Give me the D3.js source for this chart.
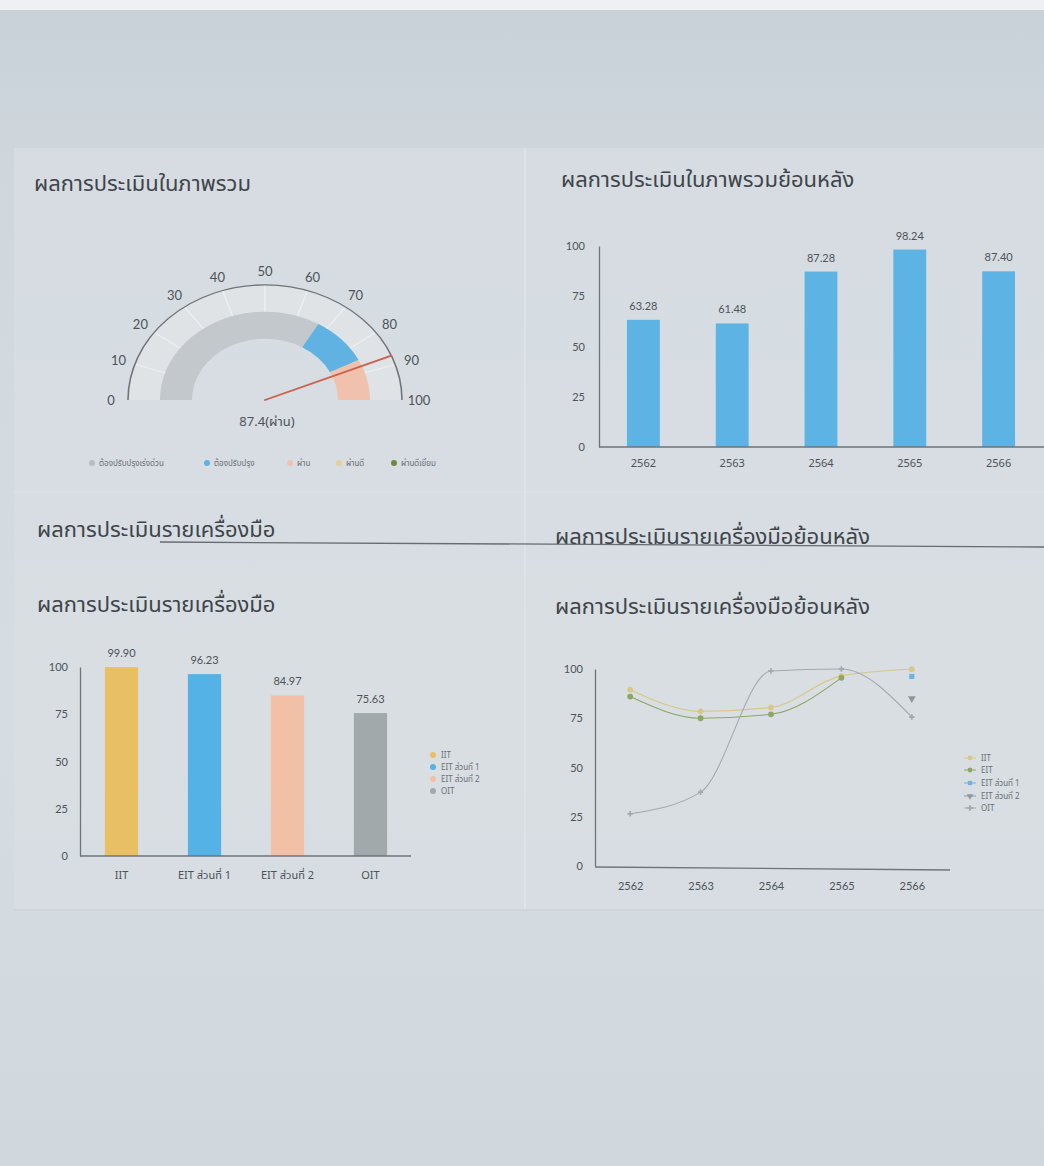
<!DOCTYPE html>
<html>
<head>
<meta charset="utf-8">
<script src="https://cdn.jsdelivr.net/npm/d3@7"></script>
<style>
  html, body { margin: 0; padding: 0; background: #d3dae0; }
  svg { display: block; }
  text { font-family: "Noto Sans Thai", "Noto Sans", "Lato", sans-serif; }
  .num { font-family: "Lato", "Open Sans", sans-serif; }
</style>
</head>
<body>
<svg id="chart" width="1044" height="1166"></svg>
<script>
// ---- data ----
var titles = [
  "ผลการประเมินในภาพรวม",
  "ผลการประเมินในภาพรวมย้อนหลัง",
  "ผลการประเมินรายเครื่องมือ",
  "ผลการประเมินรายเครื่องมือย้อนหลัง"
];

// gauge
var gaugeTicks = [0, 10, 20, 30, 40, 50, 60, 70, 80, 90, 100];
var gaugeValue = 87.4;
var gaugeLabel = "87.4(ผ่าน)";
var gaugeBandFrom = [0, 67, 85];
var gaugeBandTo = [67, 85, 100];
var gaugeLegend = ["ต้องปรับปรุงเร่งด่วน", "ต้องปรับปรุง", "ผ่าน", "ผ่านดี", "ผ่านดีเยี่ยม"];

// overall by year
var years = ["2562", "2563", "2564", "2565", "2566"];
var yearScores = [63.28, 61.48, 87.28, 98.24, 87.40];

// per tool
var tools = ["IIT", "EIT ส่วนที่ 1", "EIT ส่วนที่ 2", "OIT"];
var toolScores = [99.90, 96.23, 84.97, 75.63];

// per tool by year
var lineSeries = ["IIT", "EIT", "EIT ส่วนที่ 1", "EIT ส่วนที่ 2", "OIT"];
var iitByYear = [89.5, 78.5, 80.5, 96.5, 99.90];
var eitByYear = [86, 75, 77, 95.5, null];
var eit1ByYear = [null, null, null, null, 96.23];
var eit2ByYear = [null, null, null, null, 84.97];
var oitByYear = [26.5, 37.5, 99, 100, 75.63];

var yTicks = [0, 25, 50, 75, 100];

// ---- colours ----
var bandColors = ["#c3c8cc", "#5fb2e2", "#f0c2ad"];
var legendColors = ["#b9bec2", "#5fb2e2", "#f0c2ad", "#e6cf95", "#6e8a3c"];
var toolColors = ["#e8bf62", "#55b2e6", "#f1c0a7", "#a2a9ab"];
var lineColors = ["#d8c787", "#8fa566", "#6bb3e2", "#8d969d", "#a3aab0"];
var barBlue = "#5db4e4";
var textColor = "#4d5358";
var axisColor = "#6e7479";

var svg = d3.select("#chart");

// background
var defs = svg.append("defs");
var grad = defs.append("linearGradient").attr("id", "bg").attr("x1", 0).attr("y1", 0).attr("x2", 0).attr("y2", 1);
grad.append("stop").attr("offset", "0%").attr("stop-color", "#c8d1d8");
grad.append("stop").attr("offset", "14%").attr("stop-color", "#cfd7dd");
grad.append("stop").attr("offset", "60%").attr("stop-color", "#d6dde2");
grad.append("stop").attr("offset", "100%").attr("stop-color", "#d0d8de");
svg.append("rect").attr("width", 1044).attr("height", 1166).attr("fill", "url(#bg)");
svg.append("rect").attr("width", 1044).attr("height", 10).attr("fill", "#eef0f2");

// card areas
svg.append("rect").attr("x", 14).attr("y", 148).attr("width", 1030).attr("height", 762)
  .attr("fill", "#d8dee3").attr("opacity", 0.7);
svg.append("line").attr("x1", 525).attr("x2", 525).attr("y1", 148).attr("y2", 910)
  .attr("stroke", "#e1e5e8").attr("stroke-width", 1.5);
svg.append("line").attr("x1", 14).attr("x2", 1044).attr("y1", 492).attr("y2", 492)
  .attr("stroke", "#dfe4e7");
svg.append("line").attr("x1", 14).attr("x2", 1044).attr("y1", 910).attr("y2", 910)
  .attr("stroke", "#c6cdd3");

// titles
function title(t, x, y) {
  svg.append("text").attr("x", x).attr("y", y).attr("font-size", 22)
    .attr("fill", "#3f454a").text(t);
}
title(titles[0], 34, 191);
title(titles[1], 561, 187);
title(titles[2], 37, 537);
title(titles[3], 555, 544);
title(titles[2], 37, 612);
title(titles[3], 555, 614);
// fold line across the screen
svg.append("line").attr("x1", 160).attr("y1", 542).attr("x2", 1044).attr("y2", 547)
  .attr("stroke", "#4a5056").attr("stroke-width", 1.3).attr("opacity", 0.8);

// ---- gauge ----
var cx = 265, cy = 400, squash = 0.84;
var ang = d3.scaleLinear().domain([0, 100]).range([-Math.PI / 2, Math.PI / 2]);
var g1 = svg.append("g").attr("transform", "translate(" + cx + "," + cy + ") scale(1," + squash + ")");

g1.append("path")
  .attr("d", d3.arc()({ innerRadius: 105, outerRadius: 137, startAngle: ang(0), endAngle: ang(100) }))
  .attr("fill", "#e0e3e6");
g1.selectAll(".band").data(gaugeBandFrom).enter().append("path")
  .attr("d", (d, i) => d3.arc()({ innerRadius: 73, outerRadius: 105, startAngle: ang(d), endAngle: ang(gaugeBandTo[i]) }))
  .attr("fill", (d, i) => bandColors[i]);
// tick separators
g1.selectAll(".tk").data(gaugeTicks.slice(1, -1)).enter().append("line")
  .attr("x1", d => 105 * Math.sin(ang(d))).attr("y1", d => -105 * Math.cos(ang(d)))
  .attr("x2", d => 137 * Math.sin(ang(d))).attr("y2", d => -137 * Math.cos(ang(d)))
  .attr("stroke", "#eceef0").attr("stroke-width", 1.5);
g1.append("path")
  .attr("d", d3.arc()({ innerRadius: 137, outerRadius: 137, startAngle: ang(0), endAngle: ang(100) }))
  .attr("fill", "none").attr("stroke", axisColor).attr("stroke-width", 1.6);
// needle
g1.append("line")
  .attr("x1", 0).attr("y1", 0)
  .attr("x2", 137 * Math.sin(ang(gaugeValue))).attr("y2", -137 * Math.cos(ang(gaugeValue)))
  .attr("stroke", "#c8634e").attr("stroke-width", 2.2).attr("stroke-linecap", "round");

svg.selectAll(".glab").data(gaugeTicks).enter().append("text")
  .attr("class", "num")
  .attr("x", d => cx + 154 * Math.sin(ang(d)))
  .attr("y", d => cy - 154 * Math.cos(ang(d)) * squash + 5)
  .attr("text-anchor", "middle").attr("font-size", 13).attr("fill", textColor)
  .text(d => d);
svg.append("text").attr("x", cx + 2).attr("y", cy + 26).attr("text-anchor", "middle")
  .attr("font-size", 13).attr("fill", textColor).text(gaugeLabel);

var legX = [92, 207, 290, 339, 394];
gaugeLegend.forEach(function (t, i) {
  svg.append("circle").attr("cx", legX[i]).attr("cy", 463).attr("r", 3).attr("fill", legendColors[i]);
  svg.append("text").attr("x", legX[i] + 7).attr("y", 466).attr("font-size", 8)
    .attr("fill", "#6a7075").text(t);
});

// ---- bar chart helpers ----
function axes(g, x, y, xLeft, xRight, y0, pad, labPad, fs) {
  g.append("g").attr("transform", "translate(" + xLeft + ",0)")
    .call(d3.axisLeft(y).tickValues(yTicks).tickSize(0).tickPadding(pad))
    .call(a => a.select(".domain").attr("stroke", axisColor).attr("stroke-width", 1.3))
    .call(a => a.selectAll("text").attr("class", "num").attr("font-size", 11).attr("fill", textColor));
  g.append("line").attr("x1", xLeft).attr("x2", xRight).attr("y1", y0).attr("y2", y0)
    .attr("stroke", axisColor).attr("stroke-width", 1.3);
  g.append("g").attr("transform", "translate(0," + y0 + ")")
    .call(d3.axisBottom(x).tickSize(0).tickPadding(labPad))
    .call(a => a.select(".domain").remove())
    .call(a => a.selectAll("text").attr("font-size", fs).attr("fill", textColor));
}

// ---- overall by year ----
var g2 = svg.append("g");
var x2 = d3.scaleBand().domain(years).range([599, 1043]).paddingInner(0.63).paddingOuter(0.315);
var y2 = d3.scaleLinear().domain([0, 100]).range([447, 246]);
g2.selectAll(".bar").data(yearScores).enter().append("rect")
  .attr("x", (d, i) => x2(years[i])).attr("width", x2.bandwidth())
  .attr("y", d => y2(d)).attr("height", d => y2(0) - y2(d)).attr("fill", barBlue);
g2.selectAll(".val").data(yearScores).enter().append("text")
  .attr("class", "num")
  .attr("x", (d, i) => x2(years[i]) + x2.bandwidth() / 2).attr("y", d => y2(d) - 10)
  .attr("text-anchor", "middle").attr("font-size", 11).attr("fill", textColor)
  .text(d => d.toFixed(2));
axes(g2, x2, y2, 599, 1044, 447, 14, 12, 11);

// ---- per tool ----
var g3 = svg.append("g");
var x3 = d3.scaleBand().domain(tools).range([80, 412]).paddingInner(0.6).paddingOuter(0.3);
var y3 = d3.scaleLinear().domain([0, 100]).range([856, 667]);
g3.selectAll(".bar").data(toolScores).enter().append("rect")
  .attr("x", (d, i) => x3(tools[i])).attr("width", x3.bandwidth())
  .attr("y", d => y3(d)).attr("height", d => y3(0) - y3(d)).attr("fill", (d, i) => toolColors[i]);
g3.selectAll(".val").data(toolScores).enter().append("text")
  .attr("class", "num")
  .attr("x", (d, i) => x3(tools[i]) + x3.bandwidth() / 2).attr("y", d => y3(d) - 10)
  .attr("text-anchor", "middle").attr("font-size", 11).attr("fill", textColor)
  .text(d => d.toFixed(2));
axes(g3, x3, y3, 80, 411, 856, 12, 15, 11);

var leg3y = [755, 767, 779, 791];
tools.forEach(function (t, i) {
  svg.append("circle").attr("cx", 433).attr("cy", leg3y[i]).attr("r", 3).attr("fill", toolColors[i]);
  svg.append("text").attr("x", 441).attr("y", leg3y[i] + 3).attr("font-size", 8)
    .attr("fill", "#6a7075").text(t);
});

// ---- per tool by year (lines) ----
var g4 = svg.append("g");
var x4 = d3.scalePoint().domain(years).range([595, 947]).padding(0.5);
var y4 = d3.scaleLinear().domain([0, 100]).range([866, 669]);
var seriesVals = [iitByYear, eitByYear, eit1ByYear, eit2ByYear, oitByYear];
var line = d3.line()
  .defined(d => d != null)
  .x((d, i) => x4(years[i])).y(d => y4(d))
  .curve(d3.curveMonotoneX);
seriesVals.forEach(function (vals, s) {
  g4.append("path").datum(vals).attr("d", line)
    .attr("fill", "none").attr("stroke", lineColors[s]).attr("stroke-width", 1.1);
});
var symbols = [d3.symbolCircle, d3.symbolCircle, d3.symbolSquare, d3.symbolTriangle, d3.symbolCross];
seriesVals.forEach(function (vals, s) {
  g4.selectAll(".m" + s).data(vals.map((v, i) => [i, v]).filter(p => p[1] != null)).enter()
    .append("path")
    .attr("transform", p => "translate(" + x4(years[p[0]]) + "," + y4(p[1]) + ")" + (s === 3 ? " rotate(180)" : ""))
    .attr("d", d3.symbol().type(symbols[s]).size(s === 4 ? 16 : 26))
    .attr("fill", lineColors[s]);
});
g4.append("g").attr("transform", "translate(595,0)")
  .call(d3.axisLeft(y4).tickValues(yTicks).tickSize(0).tickPadding(12))
  .call(a => a.select(".domain").attr("stroke", axisColor).attr("stroke-width", 1.3))
  .call(a => a.selectAll("text").attr("class", "num").attr("font-size", 11).attr("fill", textColor));
g4.append("line").attr("x1", 595).attr("x2", 950).attr("y1", 867).attr("y2", 870)
  .attr("stroke", axisColor).attr("stroke-width", 1.3);
g4.append("g").attr("transform", "translate(0,868)")
  .call(d3.axisBottom(x4).tickSize(0).tickPadding(14))
  .call(a => a.select(".domain").remove())
  .call(a => a.selectAll("text").attr("class", "num").attr("font-size", 11).attr("fill", textColor));

var leg4y = [758, 770, 783, 796, 808];
lineSeries.forEach(function (t, i) {
  svg.append("line").attr("x1", 964).attr("x2", 976).attr("y1", leg4y[i]).attr("y2", leg4y[i])
    .attr("stroke", lineColors[i]).attr("stroke-width", 1);
  svg.append("path").attr("transform", "translate(970," + leg4y[i] + ")" + (i === 3 ? " rotate(180)" : ""))
    .attr("d", d3.symbol().type(symbols[i]).size(18)).attr("fill", lineColors[i]);
  svg.append("text").attr("x", 981).attr("y", leg4y[i] + 3).attr("font-size", 8)
    .attr("fill", "#6a7075").text(t);
});
</script>
</body>
</html>
